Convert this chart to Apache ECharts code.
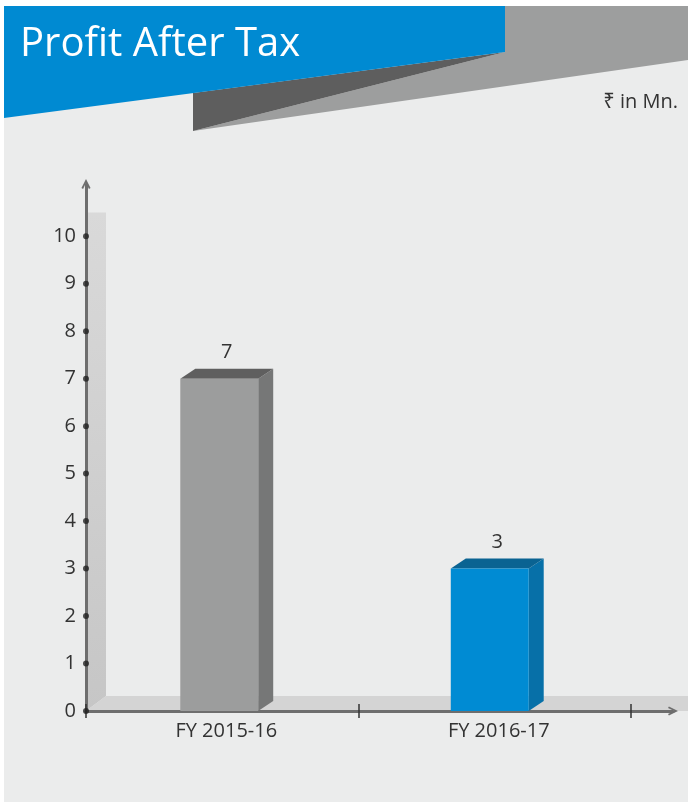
<!DOCTYPE html>
<html>
<head>
<meta charset="utf-8">
<script src="https://cdn.jsdelivr.net/npm/echarts@6/dist/echarts.min.js"></script>
<style>
  html, body { margin: 0; padding: 0; background: #fff; }
  #main { width: 688px; height: 802px; }
</style>
</head>
<body>
<div id="main"></div>
<script>
// data
var categories = ['FY 2015-16', 'FY 2016-17'];
var profitValues = [7, 3];
var yTicks = [0, 1, 2, 3, 4, 5, 6, 7, 8, 9, 10];

// colours per bar: front, top, side
var barColors = [
  ['#9c9d9d', '#5f5f5f', '#767777'],
  ['#008bd3', '#0a6392', '#0770a8']
];

var chart = echarts.init(document.getElementById('main'));
var FONT = '"Open Sans", "Noto Sans", sans-serif';
var YMAX = 11.1;
var chevron = 'path://M0,10 L5,0 L10,10 L8.2,11 L5,4.2 L1.8,11 Z';

function renderBar(params, api) {
  var idx = api.value(0);
  var val = api.value(1);
  var top = api.coord([idx, val]);
  var base = api.coord([idx, 0]);
  var band = api.size([1, 0])[0];
  var bw = band * 0.286;
  var dx = 15, dy = 10;
  var x0 = top[0] - bw / 2 - 3 - idx * 2;
  var x1 = x0 + bw;
  var c = barColors[idx];
  return {
    type: 'group',
    children: [
      { type: 'polygon', shape: { points: [[x1, top[1]], [x1 + dx, top[1] - dy], [x1 + dx, base[1] - dy], [x1, base[1]]] },
        style: { fill: c[2] } },
      { type: 'polygon', shape: { points: [[x0, top[1]], [x1, top[1]], [x1 + dx, top[1] - dy], [x0 + dx, top[1] - dy]] },
        style: { fill: c[1] } },
      { type: 'rect', shape: { x: x0, y: top[1], width: bw, height: base[1] - top[1] },
        style: { fill: c[0] } },
      { type: 'text', x: x0 + (bw + dx) / 2, y: top[1] - dy - 16,
        style: { text: String(val), fill: '#333', font: '20px ' + FONT, align: 'center', verticalAlign: 'middle' } }
    ]
  };
}

var option = {
  animation: false,
  backgroundColor: '#ffffff',
  grid: [
    { left: 86, right: 57, top: 184, bottom: 91 },
    { left: 86, right: 15, top: 184, bottom: 91 }
  ],
  xAxis: [
    {
      type: 'category', gridIndex: 0, data: categories,
      axisLine: { show: false },
      axisTick: { show: true, length: 7, lineStyle: { color: '#333', width: 1.5 } },
      axisLabel: { color: '#333', fontSize: 20, fontFamily: FONT, margin: 10, padding: [0, 0, 0, 8] }
    },
    {
      type: 'value', gridIndex: 1, min: 0, max: 1,
      axisLine: { show: true, symbol: ['none', chevron], symbolSize: [14, 10], lineStyle: { color: '#6e6e6e', width: 3 } },
      axisTick: { show: false }, axisLabel: { show: false }, splitLine: { show: false }
    },
    {
      type: 'category', gridIndex: 0, data: categories, position: 'bottom',
      axisLine: { show: false },
      axisTick: { show: true, inside: true, length: 7, lineStyle: { color: '#333', width: 1.5 } },
      axisLabel: { show: false }
    }
  ],
  yAxis: [
    {
      type: 'value', gridIndex: 0, min: 0, max: YMAX, interval: 1,
      axisLine: { show: true, symbol: ['none', chevron], symbolSize: [14, 10], lineStyle: { color: '#6e6e6e', width: 3 } },
      axisTick: { show: false },
      splitLine: { show: false },
      axisLabel: {
        color: '#333', fontSize: 20, fontFamily: FONT, margin: 10,
        showMaxLabel: false,
        formatter: function (v) { return yTicks.indexOf(v) >= 0 ? String(v) : ''; }
      }
    },
    { type: 'value', gridIndex: 1, min: 0, max: YMAX, show: false }
  ],
  series: [
    {
      type: 'custom', xAxisIndex: 0, yAxisIndex: 0, z: 3,
      renderItem: renderBar,
      data: profitValues.map(function (v, i) { return [i, v]; })
    },
    {
      type: 'scatter', xAxisIndex: 1, yAxisIndex: 1, z: 5, clip: false,
      symbolSize: 6, itemStyle: { color: '#222' },
      data: yTicks.map(function (v) { return [0, v]; })
    }
  ]
};
chart.setOption(option);

// backdrop: banner, walls, floor (wall heights taken from the y axis)
var yBase = chart.convertToPixel({ yAxisIndex: 0 }, 0);
var yWall = chart.convertToPixel({ yAxisIndex: 0 }, 10.5);
var xAxisPx = 86;
chart.setOption({
  graphic: [
    { type: 'rect', z: -10, shape: { x: 4, y: 6, width: 684, height: 796 }, style: { fill: '#ebecec' } },
    { type: 'polygon', z: -9, shape: { points: [[505, 6], [688, 6], [688, 60], [193, 131], [505, 52]] }, style: { fill: '#9d9e9e' } },
    { type: 'polygon', z: -9, shape: { points: [[193, 93], [505, 52], [193, 131]] }, style: { fill: '#5e5e5e' } },
    { type: 'polygon', z: -8, shape: { points: [[4, 6], [505, 6], [505, 52], [4, 118]] }, style: { fill: '#008ad2' } },
    { type: 'text', z: -7, x: 20, y: 45, style: { text: 'Profit After Tax', fill: '#fff', font: '40px ' + FONT, verticalAlign: 'middle' } },
    { type: 'text', z: -7, x: 678, y: 102, style: { text: '\u20b9 in Mn.', fill: '#333', font: '20px ' + FONT, align: 'right', verticalAlign: 'middle' } },
    { type: 'polygon', z: -6, shape: { points: [[xAxisPx, yWall], [xAxisPx + 20, yWall], [xAxisPx + 20, yBase - 15], [xAxisPx, yBase]] },
      style: { fill: new echarts.graphic.LinearGradient(0, 0, 0, 1, [{ offset: 0, color: '#d9d9d9' }, { offset: 1, color: '#c6c6c6' }]) } },
    { type: 'polygon', z: -6, shape: { points: [[xAxisPx, yBase], [xAxisPx + 20, yBase - 15], [688, yBase - 15], [688, yBase]] },
      style: { fill: '#d4d4d4' } }
  ]
});
</script>
</body>
</html>
